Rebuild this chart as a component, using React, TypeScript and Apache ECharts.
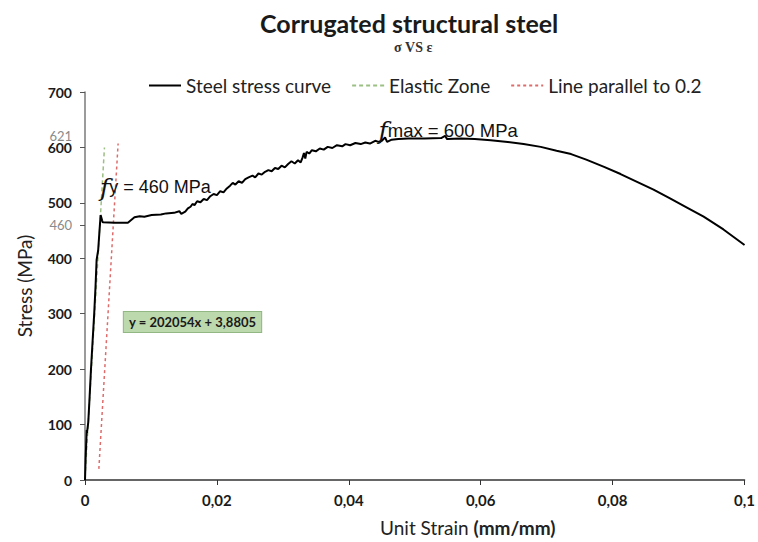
import React, { useEffect, useRef } from "react";
import * as echarts from "echarts";

const stressCurve: [number, number][] = [
  [0, 0], [0.0001, 40], [0.00026, 90], [0.0003, 85], [0.0005, 105], [0.0007, 150],
  [0.0009, 198], [0.0011, 240], [0.0014, 301], [0.0016, 350], [0.00176, 397],
  [0.002, 415], [0.0022, 450], [0.00237, 478], [0.0026, 468], [0.0027, 465],
  [0.0045, 464], [0.0065, 464], [0.007, 469], [0.0075, 474], [0.0083, 476],
  [0.009, 475], [0.0101, 478], [0.0115, 479], [0.0123, 481], [0.0135, 482],
  [0.0143, 485], [0.0146, 480], [0.0152, 484], [0.0156, 490], [0.016, 493],
  [0.0163, 498], [0.0166, 496], [0.017, 503], [0.0175, 501], [0.018, 507],
  [0.0185, 505], [0.019, 512], [0.0195, 516], [0.02, 514], [0.0205, 521],
  [0.021, 519], [0.0215, 526], [0.022, 531], [0.0224, 536], [0.0228, 533],
  [0.0233, 539], [0.0238, 536], [0.0243, 543], [0.0248, 546], [0.0254, 549],
  [0.0258, 546], [0.0263, 553], [0.0268, 551], [0.0273, 556], [0.0278, 559],
  [0.0283, 557], [0.0288, 563], [0.0293, 561], [0.0298, 567], [0.0303, 564],
  [0.0308, 570], [0.0313, 575], [0.0318, 571], [0.0323, 577], [0.0327, 573],
  [0.033, 582], [0.0332, 590], [0.0334, 580], [0.0336, 592], [0.034, 589],
  [0.0344, 595], [0.035, 593], [0.0356, 598], [0.0362, 596], [0.0368, 601],
  [0.0375, 599], [0.0382, 604], [0.039, 602], [0.0395, 606], [0.0402, 604],
  [0.041, 608], [0.0418, 606], [0.0425, 609], [0.0432, 607], [0.044, 612],
  [0.0445, 610], [0.045, 612], [0.0455, 618], [0.0458, 610], [0.0465, 614],
  [0.0475, 615], [0.049, 616], [0.0515, 616], [0.054, 617], [0.0546, 621],
  [0.0549, 615], [0.057, 616], [0.0591, 615], [0.0615, 613], [0.0641, 610],
  [0.0665, 606], [0.0691, 601], [0.0715, 594], [0.0737, 588], [0.076, 578],
  [0.0787, 565], [0.0812, 552], [0.0837, 538], [0.0862, 524], [0.0887, 508],
  [0.0912, 492], [0.0938, 475], [0.0968, 452], [0.1, 424],
];

const elasticZone: [number, number][] = [[0, 3.88], [0.00295, 600]];
const parallelLine: [number, number][] = [[0.0021, 20], [0.00502, 607]];

const seriesNames = ["Steel stress curve", "Elastic Zone", "Line parallel to 0.2"];
const yMainTicks = [0, 100, 200, 300, 400, 500, 600, 700];
const yExtraTicks = [460, 621];
const xTicks = [0, 0.02, 0.04, 0.06, 0.08, 0.1];

const fyPoint: [number, number] = [0.00226, 528];
const fmaxPoint: [number, number] = [0.0445, 630];
const equationPoint: [number, number] = [0.0163, 285];
const equationText = "y = 202054x + 3,8805";

export default function App() {
  const ref = useRef<HTMLDivElement>(null);
  useEffect(() => {
    if (!ref.current) return;
    document.body.style.margin = "0";
    const chart = echarts.init(ref.current, null, { renderer: "svg" });
    const fmtX = (v: number) => (v === 0 ? "0" : String(+v.toFixed(2)).replace(".", ","));
    chart.setOption({
      animation: false,
      backgroundColor: "#ffffff",
      title: [
        {
          text: "Corrugated structural steel",
          left: 255,
          top: 5,
          textStyle: { fontFamily: "Lato", fontWeight: "bold", fontSize: 25, color: "#1a1a1a" },
        },
        {
          text: "σ VS ε",
          left: 389,
          top: 35,
          textStyle: { fontFamily: "Liberation Serif", fontWeight: "bold", fontSize: 14, color: "#333" },
        },
      ],
      legend: {
        data: seriesNames,
        left: 143,
        top: 71,
        itemWidth: 32,
        itemHeight: 14,
        itemGap: 20,
        itemStyle: { opacity: 0 },
        textStyle: { fontFamily: "Lato", fontSize: 19, color: "#222" },
      },
      grid: { left: 85, right: 10, top: 92, bottom: 62, containLabel: false },
      xAxis: {
        type: "value",
        min: 0,
        max: 0.1,
        interval: 0.02,
        name: "{a|Unit Strain }{b|(mm/mm)}",
        nameLocation: "middle",
        nameGap: 38,
        nameTextStyle: {
          padding: [0, 0, 0, 106],
          rich: {
            a: { fontFamily: "Lato", fontSize: 19, color: "#222" },
            b: { fontFamily: "Lato", fontSize: 19, fontWeight: "bold", color: "#222" },
          },
        },
        axisLine: { show: true, lineStyle: { color: "#333", width: 1.5 } },
        axisTick: { show: true, length: 5, lineStyle: { color: "#333" } },
        axisLabel: {
          margin: 12,
          formatter: fmtX,
          fontFamily: "Lato",
          fontWeight: "bold",
          fontSize: 15,
          color: "#1a1a1a",
        },
        splitLine: { show: false },
      },
      yAxis: {
        type: "value",
        min: 0,
        max: 700,
        interval: 100,
        name: "Stress (MPa)",
        nameLocation: "middle",
        nameGap: 51,
        nameTextStyle: { fontFamily: "Lato", fontSize: 19, color: "#222" },
        axisLine: { show: true, lineStyle: { color: "#7a7a7a", width: 1.5 } },
        axisTick: {
          show: true,
          length: 5,
          customValues: [...yMainTicks, 460],
          lineStyle: { color: "#555" },
        },
        axisLabel: {
          margin: 13,
          customValues: [...yMainTicks, ...yExtraTicks],
          formatter: (v: number) => (yExtraTicks.includes(v) ? `{g|${v}}` : `{b|${v}}`),
          rich: {
            b: { fontFamily: "Lato", fontWeight: "bold", fontSize: 14, color: "#1a1a1a" },
            g: { fontFamily: "Lato", fontSize: 13, color: "#8a8a8a" },
          },
        },
        splitLine: { show: false },
      },
      series: [
        {
          name: seriesNames[0],
          type: "line",
          data: stressCurve,
          symbol: "none",
          z: 3,
          lineStyle: { color: "#000", width: 2 },
          itemStyle: { color: "#000" },
          markPoint: {
            symbol: "circle",
            symbolSize: 0,
            data: [
              {
                coord: fyPoint,
                label: {
                  show: true,
                  position: [0, 0],
                  align: "left",
                  verticalAlign: "middle",
                  formatter: "{f|f}{t|y = 460 MPa}",
                  rich: {
                    f: { fontFamily: "DejaVu Serif", fontStyle: "italic", fontSize: 25, color: "#111" },
                    t: { fontFamily: "Liberation Sans", fontSize: 18, color: "#111" },
                  },
                },
              },
              {
                coord: fmaxPoint,
                label: {
                  show: true,
                  position: [0, 0],
                  align: "left",
                  verticalAlign: "middle",
                  formatter: "{f|f}{t|max = 600 MPa}",
                  rich: {
                    f: { fontFamily: "DejaVu Serif", fontStyle: "italic", fontSize: 25, color: "#111" },
                    t: { fontFamily: "Liberation Sans", fontSize: 18.5, color: "#111" },
                  },
                },
              },
              {
                coord: equationPoint,
                label: {
                  show: true,
                  position: [0, 0],
                  align: "center",
                  verticalAlign: "middle",
                  formatter: equationText,
                  fontFamily: "Lato",
                  fontWeight: "bold",
                  fontSize: 13,
                  color: "#1a1a1a",
                  backgroundColor: "#bcd8ad",
                  borderColor: "#93b783",
                  borderWidth: 1,
                  padding: [4, 5, 3, 5],
                },
              },
            ],
          },
        },
        {
          name: seriesNames[1],
          type: "line",
          data: elasticZone,
          symbol: "none",
          z: 2,
          lineStyle: { color: "#9cbf84", width: 1.5, type: [4, 3] },
          itemStyle: { color: "#9cbf84" },
        },
        {
          name: seriesNames[2],
          type: "line",
          data: parallelLine,
          symbol: "none",
          z: 2,
          lineStyle: { color: "#df6b6b", width: 1.5, type: [3, 3] },
          itemStyle: { color: "#a33a3a" },
        },
      ],
    });
    return () => chart.dispose();
  }, []);
  return <div ref={ref} style={{ width: 758, height: 542 }} />;
}
